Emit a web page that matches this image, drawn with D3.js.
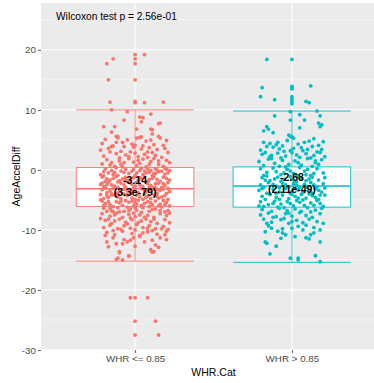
<!DOCTYPE html>
<html>
<head>
<meta charset="utf-8">
<script src="https://cdn.jsdelivr.net/npm/d3@7"></script>
<style>
  body { margin: 0; background: #fff; }
  svg { display: block; font-family: "Liberation Sans", Arial, sans-serif; }
</style>
</head>
<body>
<div id="chart"></div>
<script>
// categories and colours
const categories = ['WHR <= 0.85', 'WHR > 0.85'];
const groupColors = ['#F8766D', '#00BFC4'];

// box statistics: [lowerWhisker, q1, median, q3, upperWhisker]
const boxStats = [
  [-15.2, -6.1, -3.14, 0.4, 10.0],
  [-15.4, -6.2, -2.68, 0.5, 9.8]
];
const medianLabels = [['-3.14', '(3.3e-79)'], ['-2.68', '(2.11e-49)']];
const testLabel = 'Wilcoxon test p = 2.56e-01';

const yTicks = [20, 10, 0, -10, -20, -30];
const yMinorTicks = [25, 15, 5, -5, -15, -25];

// jittered points: [jitter in % of category step, AgeAccelDiff]
const lowPoints = [
  [0,19.2],[0,18.5],[0,17.7],[6,19.2],[-14,18.5],[-18,17.7],[-17,15],[0,15],[-16,11.3],[0,11.4],
  [0,11.2],[6,11.2],[18,11.3],[-15,10],[-5,9.7],[10,9.3],[3,8.8],[5,8.7],[-7,8.3],[4,8],
  [16,7.8],[15,7.7],[-20,7.2],[-13,7.2],[1,6.8],[10,6.8],[-15,6.3],
  [-11,5.6],[-12,5.6],[1,5.3],[4,5.5],[11,6.7],[11,6.0],[15,5.6],
  [-19,5.1],[-8,4.6],[3,5.4],[12,4.2],[20,4.9],[-14,4.0],[7,4.8],[-2,4.3],[16,5.3],[-21,4.4],
  [10,5.0],[-11,5.3],[0,4.1],[18,4.1],[-5,5.0],
  [-17,3.6],[-9,3.1],[-1,3.8],[6,2.6],[14,3.4],[21,2.9],[-20,2.3],[-12,2.7],[2,2.2],[9,3.7],
  [17,2.1],[-6,2.5],[-15,3.9],[11,2.9],[19,3.6],[-3,3.0],[4,3.5],[-22,3.3],[-10,2.0],[13,2.4],
  [0,2.8],[8,2.1],
  [-18,1.7],[-7,1.2],[5,1.8],[15,0.9],[-13,0.6],[1,0.7],[10,1.4],[20,1.6],[-4,1.9],[-21,1.0],
  [7,0.5],[-10,1.5],[18,0.6],[-1,1.3],[12,1.9],[-16,0.8],[3,1.1],[22,1.2],[-8,0.5],[9,0.9],
  [-19,0.2],[-6,0.1],[4,0.3],[14,0.0],[-12,0.35],[8,0.15],[19,0.3],[-1,0.05],
  [-20,-0.3],[-14,-0.8],[-9,-0.2],[-4,-0.6],[0,-0.9],[3,-0.1],[7,-0.5],[11,-0.9],[15,-0.3],[19,-0.7],
  [22,-0.1],[-17,-0.5],[-11,-0.9],[-2,-0.2],[5,-0.8],[9,-0.4],[13,-0.6],[17,-0.2],[-22,-0.8],[-7,-0.4],
  [1,-0.5],[21,-0.5],[-15,-0.1],[10,-0.1],
  [-21,-1.2],[-16,-1.7],[-12,-1.1],[-8,-1.5],[-5,-1.9],[-1,-1.3],[2,-1.8],[6,-1.2],[9,-1.6],[12,-1.1],
  [16,-1.9],[20,-1.4],[-19,-1.9],[-14,-1.4],[-10,-1.8],[-3,-1.6],[0,-1.1],[4,-1.5],[8,-1.9],[14,-1.6],
  [18,-1.2],[22,-1.7],[-6,-1.2],[11,-1.4],[-18,-1.5],
  [-22,-2.4],[-17,-2.1],[-13,-2.7],[-9,-2.2],[-6,-2.9],[-2,-2.4],[1,-2.1],[5,-2.8],[8,-2.3],[12,-2.9],
  [15,-2.2],[19,-2.6],[21,-2.1],[-20,-2.8],[-15,-2.5],[-11,-2.9],[-4,-2.1],[0,-2.7],[3,-2.5],[10,-2.6],
  [17,-2.9],[-7,-2.5],[13,-2.3],[-1,-3.0],[7,-2.0],
  [-21,-3.3],[-18,-3.8],[-14,-3.1],[-10,-3.6],[-7,-3.2],[-3,-3.9],[0,-3.4],[4,-3.1],[7,-3.7],[11,-3.3],
  [14,-3.9],[18,-3.2],[22,-3.6],[-16,-3.5],[-12,-3.9],[-5,-3.5],[2,-3.8],[9,-3.5],[16,-3.4],[20,-3.9],
  [-8,-3.9],[-1,-3.2],[6,-3.4],[13,-3.0],[-19,-3.0],
  [-22,-4.1],[-17,-4.6],[-13,-4.2],[-9,-4.8],[-5,-4.3],[-2,-4.7],[1,-4.2],[5,-4.9],[8,-4.4],[12,-4.1],
  [15,-4.7],[19,-4.3],[21,-4.9],[-20,-4.8],[-15,-4.0],[-11,-4.5],[-7,-4.1],[0,-4.9],[3,-4.5],[10,-4.8],
  [17,-4.5],[-3,-4.0],[6,-4.0],[14,-4.4],[-18,-4.3],
  [-21,-5.2],[-16,-5.8],[-12,-5.3],[-8,-5.9],[-4,-5.4],[-1,-6.0],[2,-5.1],[6,-5.6],[9,-6.1],[13,-5.2],
  [16,-5.7],[20,-5.4],[22,-6.0],[-19,-5.6],[-14,-6.1],[-10,-5.5],[-6,-5.1],[0,-5.5],[4,-5.9],[11,-5.8],
  [18,-5.1],[-2,-5.2],[8,-5.3],[15,-6.0],[-17,-5.3],
  [-20,-6.4],[-15,-6.8],[-11,-6.3],[-7,-6.9],[-3,-6.5],[1,-6.7],[5,-6.3],[9,-6.9],[13,-6.5],[17,-6.2],
  [21,-6.8],[-18,-6.9],[-5,-6.2],[11,-6.6],[0,-6.3],
  [-21,-7.3],[-16,-7.7],[-12,-7.2],[-8,-7.9],[-4,-7.4],[0,-7.8],[4,-7.1],[8,-7.6],[12,-7.9],[16,-7.3],
  [20,-7.6],[-14,-7.0],[6,-7.9],[-1,-7.2],
  [-19,-8.4],[-15,-8.9],[-10,-8.2],[-6,-8.7],[-2,-8.3],[2,-8.8],[7,-8.2],[10,-8.6],[14,-8.9],[19,-8.3],
  [22,-8.8],[-13,-8.5],[4,-8.5],[-22,-8.1],
  [-20,-9.6],[-16,-9.2],[-11,-9.8],[-7,-9.3],[-3,-9.7],[1,-9.1],[5,-9.6],[9,-9.3],[13,-9.8],[18,-9.4],
  [21,-9.9],[-9,-9.9],
  [-18,-10.4],[-13,-10.8],[-8,-10.2],[-2,-10.6],[3,-10.9],[8,-10.3],[14,-10.7],[20,-10.2],[0,-10.0],
  [-11,-14.7],[-8,-15],[-4,-14.3],[-10,-13.6],[10,-13.3],[11,-13.7],[-17,-12.8],[-18,-12],[-8,-12.3],[-5,-12],
  [-3,-11.7],[11,-11.7],[13,-12.5],[16,-11.3],[19,-10.8],[-14,-11.3],[3,-11.1],[-10,-13.8],[-4,-14.4],[-12,-14.9],
  [12,-13.6],
  [0,-21.3],[-3,-21.3],[8,-21.3],[0,-25.2],[13,-25.2],[0,-27.5],[15,-27.5],
  // denser part of the cloud
  [-16,3.0],[5,4.0],[-4,2.2],[15,1.5],[-9,0.9],[2,1.6],[20,0.1],[-13,-0.4],[6,-0.2],[-20,-1.0],
  [12,-0.6],[-6,-1.6],[18,-2.3],[-11,-2.0],[3,-1.3],[-18,-2.5],[9,-2.9],[-2,-3.6],[14,-3.3],[-15,-4.2],
  [7,-4.6],[-9,-5.2],[19,-5.8],[1,-5.7],[-20,-5.9],[10,-5.5],[-4,-6.8],[16,-6.8],[-13,-7.5],[3,-7.5],
  [-17,-8.2],[12,-8.2],[-5,-9.0],[8,-9.7],[-14,-10.1],[17,-9.8],[-1,-11.3],[6,-12.0],[-12,-12.3],[15,-12.9],
  [-21,-2.2],[21,-3.1],[-22,-5.0],[22,-7.2],[-19,-10.9],[19,-7.0],[-7,3.9],[8,3.0],[-15,1.2],[13,0.2],
  [-3,-8.0],[5,-10.5],[-10,-7.0],[11,-10.1],[0,-12.7],[-16,-6.4],[4,-6.1],[-7,-11.6],[20,-11.6],[-12,4.6]
];

const highPoints = [
  [-16,18.4],[0,18.4],[-19,13.7],[0,13.9],[0,13.7],[0,13.5],[12,14],[-20,12.2],[-11,11.7],[0,12.2],
  [0,11.8],[0,11.4],[0,11.0],[9,11.4],[11,11.2],[16,9.8],[-1,9.7],[-11,9],[5,9.2],[18,9],
  [-1,8.3],[8,8.3],[17,7.8],[19,7.5],[18,7.2],[-16,7.2],[-15,6.8],[-18,6.5],[-12,6.2],[5,7],
  [-2,5.8],[-1,5.6],[0,5.5],[1,5.3],[14,5.2],
  [-18,4.6],[-10,4.2],[-3,4.9],[4,4.3],[11,4.8],[17,4.1],[-14,4.4],[8,4.6],[20,4.7],[-6,4.0],
  [-20,3.3],[-12,3.8],[-5,3.1],[1,3.6],[7,3.2],[13,3.9],[19,3.4],[-16,3.9],[-8,3.5],[10,3.4],
  [16,3.0],[-1,3.2],
  [-19,2.6],[-14,2.2],[-9,2.8],[-4,2.3],[0,2.9],[5,2.1],[9,2.7],[14,2.4],[18,2.9],[21,2.2],
  [-17,2.9],[-7,2.0],[3,2.5],[12,2.0],
  [-21,1.4],[-15,1.8],[-11,1.1],[-6,1.6],[-2,0.9],[2,1.5],[6,0.8],[10,1.9],[15,1.2],[19,1.7],
  [-18,0.7],[-8,0.6],[4,1.2],[13,0.6],[17,0.9],[-13,1.9],
  [-20,0.2],[-16,-0.4],[-12,0.3],[-7,-0.8],[-3,0.1],[1,-0.6],[5,0.4],[8,-0.2],[12,-0.9],[16,0.2],
  [20,-0.5],[-18,-0.9],[-10,-0.3],[-1,-0.2],[3,-0.9],[10,0.1],[14,-0.6],[-5,-0.5],
  [-19,-1.3],[-14,-1.8],[-9,-1.2],[-5,-1.6],[-1,-1.1],[2,-1.9],[6,-1.4],[9,-1.8],[13,-1.2],[17,-1.7],
  [21,-1.3],[-16,-1.0],[-11,-1.5],[0,-1.6],[4,-1.1],[11,-1.5],[-7,-1.9],
  [-20,-2.5],[-15,-2.1],[-10,-2.7],[-6,-2.2],[-2,-2.8],[1,-2.3],[5,-2.9],[8,-2.4],[12,-2.1],[16,-2.8],
  [20,-2.3],[-18,-2.9],[-12,-2.4],[-4,-2.5],[3,-2.6],[10,-2.9],[14,-2.5],
  [-21,-3.4],[-16,-3.9],[-12,-3.2],[-8,-3.7],[-4,-3.1],[0,-3.6],[4,-3.3],[7,-3.8],[11,-3.4],[15,-3.1],
  [19,-3.7],[-19,-3.1],[-10,-3.9],[-1,-3.9],[2,-3.1],[13,-3.9],[17,-3.4],
  [-19,-4.4],[-14,-4.1],[-10,-4.6],[-6,-4.2],[-2,-4.8],[2,-4.4],[6,-4.1],[9,-4.7],[13,-4.3],[17,-4.9],
  [21,-4.2],[-17,-4.9],[-8,-4.9],[0,-4.1],[4,-4.7],[11,-4.0],[15,-4.6],
  [-20,-5.3],[-15,-5.8],[-11,-5.2],[-7,-5.7],[-3,-5.3],[1,-6.0],[5,-5.4],[8,-5.9],[12,-5.5],[16,-5.1],
  [20,-6.1],[-18,-6.1],[-9,-6.2],[-1,-5.6],[3,-5.1],[14,-5.9],[18,-5.6],
  [-19,-6.6],[-13,-6.9],[-8,-6.4],[-3,-6.8],[2,-6.5],[6,-6.9],[10,-6.3],[15,-6.7],[19,-6.4],[-5,-6.3],
  [-20,-7.5],[-15,-7.2],[-10,-7.8],[-4,-7.3],[0,-7.7],[5,-7.1],[9,-7.6],[13,-7.9],[18,-7.3],[-12,-7.9],
  [-18,-8.2],[-13,-8.7],[-7,-8.3],[-2,-8.9],[3,-8.4],[7,-8.8],[11,-8.2],[16,-8.6],[20,-8.9],[-5,-8.1],
  [-15,-9.3],[9,-9.2],[14,-9.6],
  [-17,-10.3],[-13,-9.7],[-9,-10.2],[-6,-10.5],[-4,-10.8],[2,-11.1],[9,-11.3],[12,-10.8],[7,-10],[18,-10],
  [0,-9.7],[4,-9.4],[-7,-11.4],
  [-17,-12],[-16,-12.2],[-10,-12.7],[-14,-14],[-1,-14.7],[4,-14.7],[4,-15],[15,-14.3],[18,-15.3],[18,-12],
  [11,-11.5],
  // denser part of the cloud
  [-9,4.6],[6,3.7],[-13,2.4],[15,1.5],[-4,0.5],[9,-0.8],[-17,-1.7],[3,-2.0],[-8,-3.0],[18,-4.2],
  [-12,-5.6],[7,-5.0],[-2,-7.2],[12,-7.0],[-16,-8.9],[0,-8.6],[21,-3.0],[-21,-6.0],[-6,-9.8],[14,-10.5]
];
const groupPoints = [lowPoints, highPoints];

const width = 374, height = 383;
const panel = { left: 41, right: 386, top: 3, bottom: 350 };

const svg = d3.select('#chart').append('svg')
  .attr('width', width)
  .attr('height', height);

const x = d3.scalePoint()
  .domain(categories)
  .range([panel.left, panel.right])
  .padding(0.6);
const step = x.step();
const boxWidth = step * 0.75;

const y = d3.scaleLinear()
  .domain([-30, 27.8])
  .range([panel.bottom, panel.top]);

// panel background + grid
svg.append('rect')
  .attr('x', panel.left).attr('y', panel.top)
  .attr('width', panel.right - panel.left)
  .attr('height', panel.bottom - panel.top)
  .attr('fill', '#EBEBEB');

svg.append('g').selectAll('line')
  .data(yMinorTicks)
  .join('line')
  .attr('x1', panel.left).attr('x2', panel.right)
  .attr('y1', d => y(d)).attr('y2', d => y(d))
  .attr('stroke', '#fff').attr('stroke-width', 0.5);

svg.append('g').selectAll('line')
  .data(yTicks)
  .join('line')
  .attr('x1', panel.left).attr('x2', panel.right)
  .attr('y1', d => y(d)).attr('y2', d => y(d))
  .attr('stroke', '#fff').attr('stroke-width', 1);

svg.append('g').selectAll('line')
  .data(categories)
  .join('line')
  .attr('x1', d => x(d)).attr('x2', d => x(d))
  .attr('y1', panel.top).attr('y2', panel.bottom)
  .attr('stroke', '#fff').attr('stroke-width', 1);

// boxes with error-bar whiskers
const boxes = svg.append('g');
categories.forEach((cat, i) => {
  const [lo, q1, med, q3, hi] = boxStats[i];
  const cx = x(cat);
  const col = groupColors[i];
  const g = boxes.append('g').attr('stroke', col).attr('fill', 'none');
  g.append('line').attr('x1', cx).attr('x2', cx).attr('y1', y(hi)).attr('y2', y(q3)).attr('stroke-width', 0.8);
  g.append('line').attr('x1', cx).attr('x2', cx).attr('y1', y(q1)).attr('y2', y(lo)).attr('stroke-width', 0.8);
  [lo, hi].forEach(v => {
    g.append('line')
      .attr('x1', cx - boxWidth / 2).attr('x2', cx + boxWidth / 2)
      .attr('y1', y(v)).attr('y2', y(v))
      .attr('stroke-width', 0.9);
  });
  g.append('rect')
    .attr('x', cx - boxWidth / 2).attr('y', y(q3))
    .attr('width', boxWidth).attr('height', y(q1) - y(q3))
    .attr('fill', '#fff').attr('stroke-width', 0.9);
  g.append('line')
    .attr('x1', cx - boxWidth / 2).attr('x2', cx + boxWidth / 2)
    .attr('y1', y(med)).attr('y2', y(med))
    .attr('stroke-width', 1.6);
});

// jittered points
categories.forEach((cat, i) => {
  svg.append('g').selectAll('circle')
    .data(groupPoints[i])
    .join('circle')
    .attr('cx', d => x(cat) + d[0] / 100 * step)
    .attr('cy', d => y(d[1]))
    .attr('r', 1.9)
    .attr('fill', groupColors[i]);
});

// median labels
categories.forEach((cat, i) => {
  const t = svg.append('text')
    .attr('x', x(cat))
    .attr('text-anchor', 'middle')
    .attr('font-size', 10.5)
    .attr('font-weight', 'bold')
    .attr('fill', '#000');
  const my = y(boxStats[i][2]);
  t.append('tspan').attr('x', x(cat)).attr('y', my - 4.5).text(medianLabels[i][0]);
  t.append('tspan').attr('x', x(cat)).attr('y', my + 7.5).text(medianLabels[i][1]);
});

// test annotation
svg.append('text')
  .attr('x', 56).attr('y', 19.5)
  .attr('font-size', 10.2)
  .attr('fill', '#000')
  .text(testLabel);

// axes
const yAxis = svg.append('g')
  .attr('transform', `translate(${panel.left},0)`)
  .call(d3.axisLeft(y).tickValues(yTicks).tickSize(3).tickPadding(2).tickFormat(d => String(d)));
const xAxis = svg.append('g')
  .attr('transform', `translate(0,${panel.bottom})`)
  .call(d3.axisBottom(x).tickSize(3).tickPadding(2));
[yAxis, xAxis].forEach(a => {
  a.select('.domain').remove();
  a.selectAll('.tick line').attr('stroke', '#333').attr('stroke-width', 0.8);
  a.selectAll('.tick text')
    .attr('fill', '#4D4D4D')
    .attr('font-size', 9.8)
    .attr('font-family', '"Liberation Sans", Arial, sans-serif');
});

svg.append('text')
  .attr('x', (panel.left + panel.right) / 2)
  .attr('y', 376)
  .attr('text-anchor', 'middle')
  .attr('font-size', 10.5)
  .attr('fill', '#000')
  .text('WHR.Cat');

svg.append('text')
  .attr('transform', `translate(19.5,${(panel.top + panel.bottom) / 2}) rotate(-90)`)
  .attr('text-anchor', 'middle')
  .attr('font-size', 10.5)
  .attr('fill', '#000')
  .text('AgeAccelDiff');
</script>
</body>
</html>
